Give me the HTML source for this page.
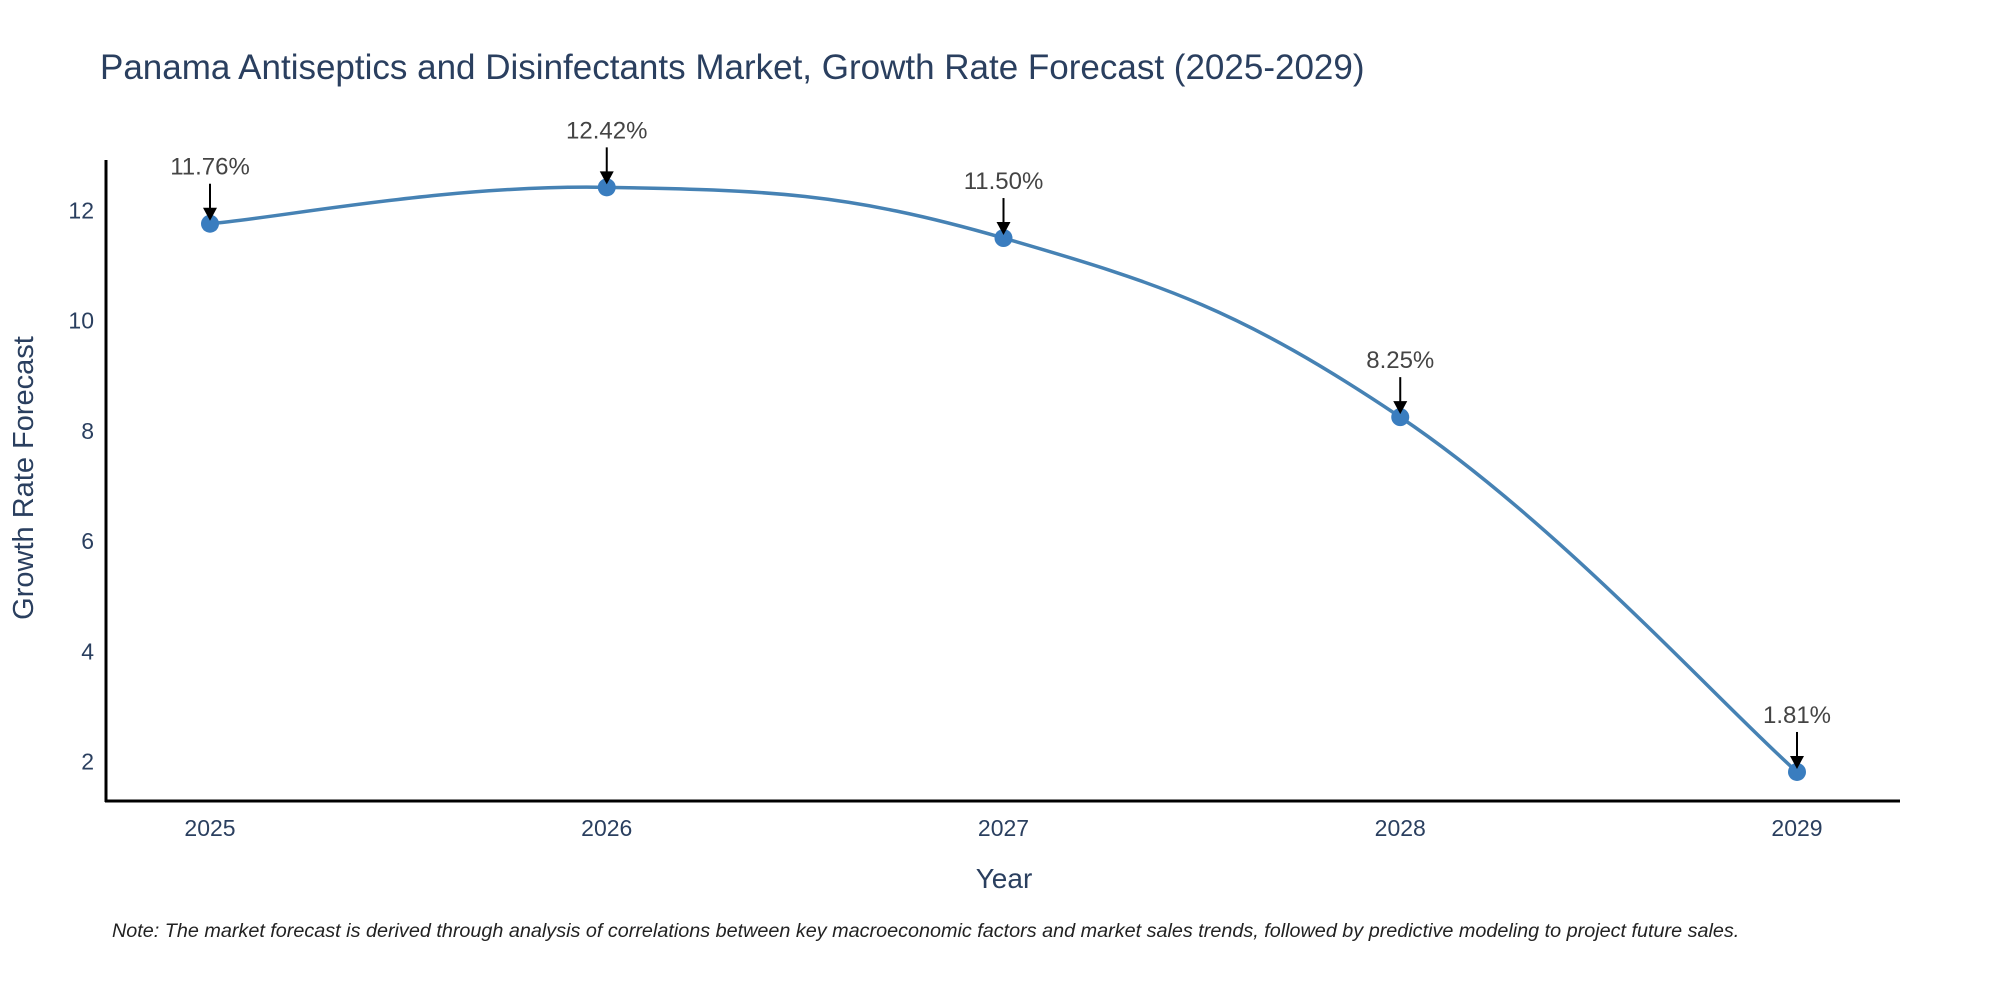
<!DOCTYPE html>
<html><head><meta charset="utf-8"><style>
body{margin:0;background:#fff;width:2000px;height:1000px;overflow:hidden;font-family:"Liberation Sans","DejaVu Sans",sans-serif}
</style></head><body>
<svg id="chart" width="2000" height="1000" xmlns="http://www.w3.org/2000/svg">
<text x="100" y="79" font-size="35" fill="#2a3f5f">Panama Antiseptics and Disinfectants Market, Growth Rate Forecast (2025-2029)</text>
<g id="yticks"></g><g id="xticks"></g>
<line x1="106" y1="160" x2="106" y2="802" stroke="#000" stroke-width="3"/>
<line x1="105" y1="801" x2="1900" y2="801" stroke="#000" stroke-width="3"/>
<text transform="translate(33,478) rotate(-90)" text-anchor="middle" font-size="29" fill="#2a3f5f">Growth Rate Forecast</text>
<text x="1004" y="888" text-anchor="middle" font-size="28" fill="#2a3f5f">Year</text>
<path id="line" fill="none" stroke="#4682b4" stroke-width="3.5"/>
<g id="marks"></g>
<text x="112" y="937" font-size="19.8" font-style="italic" fill="#222">Note: The market forecast is derived through analysis of correlations between key macroeconomic factors and market sales trends, followed by predictive modeling to project future sales.</text>
</svg>
<script>
const years=[2025,2026,2027,2028,2029];
const values=[11.76,12.42,11.50,8.25,1.81];
const labels=["11.76%","12.42%","11.50%","8.25%","1.81%"];
const yTicks=[2,4,6,8,10,12];
const NS="http://www.w3.org/2000/svg";
function xs(y){return 210+(y-2025)*396.75;}
function ys(v){return 210.5+(12-v)*55.1;}
function mk(t,a,p){const e=document.createElementNS(NS,t);for(const k in a)e.setAttribute(k,a[k]);p.appendChild(e);return e;}
const yt=document.getElementById('yticks'),xt=document.getElementById('xticks'),mg=document.getElementById('marks');
yTicks.forEach(v=>{const t=mk('text',{x:94,y:ys(v)+8,'text-anchor':'end','font-size':23,fill:'#2a3f5f'},yt);t.textContent=v;

});
years.forEach(y=>{const t=mk('text',{x:xs(y),y:836,'text-anchor':'middle','font-size':23,fill:'#2a3f5f'},xt);t.textContent=y;

});
const P=years.map((y,i)=>[xs(y),ys(values[i])]);
let d='M'+P[0][0]+','+P[0][1];
for(let i=0;i<P.length-1;i++){const p0=P[Math.max(i-1,0)],p1=P[i],p2=P[i+1],p3=P[Math.min(i+2,P.length-1)];const s=1/5;
d+=' C'+(p1[0]+(p2[0]-p0[0])*s)+','+(p1[1]+(p2[1]-p0[1])*s)+' '+(p2[0]-(p3[0]-p1[0])*s)+','+(p2[1]-(p3[1]-p1[1])*s)+' '+p2[0]+','+p2[1];}
document.getElementById('line').setAttribute('d',d);
P.forEach((p,i)=>{
const c=mk('circle',{cx:p[0],cy:p[1],r:9,fill:'#3a7dbf'},mg);


const l=mk('line',{x1:p[0],y1:p[1]-40,x2:p[0],y2:p[1]-14,stroke:'#000','stroke-width':2},mg);


const a=mk('polygon',{points:(p[0]-7)+','+(p[1]-16)+' '+(p[0]+7)+','+(p[1]-16)+' '+p[0]+','+(p[1]-3),fill:'#000'},mg);


const t=mk('text',{x:p[0],y:p[1]-49,'text-anchor':'middle','font-size':24,fill:'#444'},mg);t.textContent=labels[i];


});
</script>
</body></html>
